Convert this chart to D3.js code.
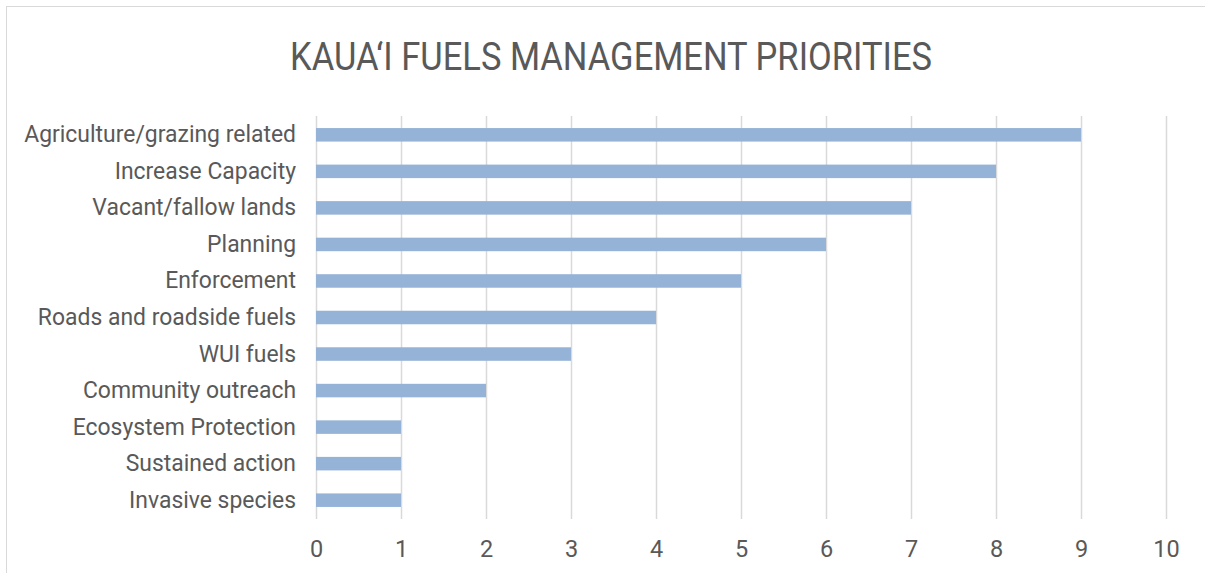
<!DOCTYPE html>
<html>
<head>
<meta charset="utf-8">
<script src="https://cdn.jsdelivr.net/npm/d3@7"></script>
<style>
  html, body { margin: 0; padding: 0; background: #fff; }
</style>
</head>
<body>
<div id="chart"></div>
<script>
// data, top to bottom as in the picture
const categories = [
  "Agriculture/grazing related",
  "Increase Capacity",
  "Vacant/fallow lands",
  "Planning",
  "Enforcement",
  "Roads and roadside fuels",
  "WUI fuels",
  "Community outreach",
  "Ecosystem Protection",
  "Sustained action",
  "Invasive species"
];
const counts = [9, 8, 7, 6, 5, 4, 3, 2, 1, 1, 1];
const xTicks = [0, 1, 2, 3, 4, 5, 6, 7, 8, 9, 10];
const title = "KAUA\u2018I FUELS MANAGEMENT PRIORITIES";

const width = 1205, height = 573;
const marginLeft = 316, marginRight = 39, marginTop = 116, marginBottom = 54;
const textColor = "#595959";
const font = "Roboto, 'Open Sans', sans-serif";

const svg = d3.select("#chart").append("svg")
  .attr("width", width)
  .attr("height", height)
  .attr("font-family", font)
  .style("display", "block");

// chart border
svg.append("rect")
  .attr("x", 6.5).attr("y", 6.5)
  .attr("width", width + 10).attr("height", height + 10)
  .attr("fill", "#fff")
  .attr("stroke", "#d9d9d9");

const x = d3.scaleLinear()
  .domain([0, 10])
  .range([marginLeft, width - marginRight]);

const y = d3.scaleBand()
  .domain(categories)
  .range([marginTop, height - marginBottom])
  .paddingInner(0.63)
  .paddingOuter(0.33);

// vertical gridlines
svg.append("g")
  .selectAll("line")
  .data(xTicks)
  .join("line")
  .attr("x1", d => Math.round(x(d)) + 0.5)
  .attr("x2", d => Math.round(x(d)) + 0.5)
  .attr("y1", marginTop)
  .attr("y2", height - marginBottom)
  .attr("stroke", "#d9d9d9")
  .attr("stroke-width", 1.5);

// bars
svg.append("g")
  .selectAll("rect")
  .data(categories)
  .join("rect")
  .attr("x", x(0))
  .attr("y", d => y(d))
  .attr("width", (d, i) => x(counts[i]) - x(0))
  .attr("height", y.bandwidth())
  .attr("fill", "#95b3d7");

// x axis tick labels
const xAxis = svg.append("g")
  .attr("transform", `translate(0,${height - marginBottom})`)
  .call(d3.axisBottom(x).tickValues(xTicks).tickSize(0).tickPadding(21));
xAxis.select(".domain").remove();
xAxis.selectAll("text")
  .attr("font-family", font)
  .attr("font-size", 23.5)
  .attr("fill", textColor);

// category labels
const yAxis = svg.append("g")
  .attr("transform", `translate(${marginLeft},0)`)
  .call(d3.axisLeft(y).tickSize(0).tickPadding(20));
yAxis.select(".domain").remove();
const labels = yAxis.selectAll("text")
  .attr("font-family", font)
  .attr("font-size", 23.5)
  .attr("fill", textColor);

// squeeze labels a bit to match the narrow original face
const longest = labels.filter(d => d === categories[0]).node();
const k = Math.min(1, 272 / longest.getComputedTextLength());
labels.each(function () {
  const t = d3.select(this);
  const tx = +t.attr("x") || 0;
  t.attr("transform", `translate(${tx},0) scale(${k},1) translate(${-tx},0)`);
});

// title
svg.append("text")
  .attr("x", 611)
  .attr("y", 70)
  .attr("text-anchor", "middle")
  .attr("font-size", 38)
  .attr("fill", textColor)
  .attr("textLength", 642)
  .attr("lengthAdjust", "spacingAndGlyphs")
  .text(title);
</script>
</body>
</html>
